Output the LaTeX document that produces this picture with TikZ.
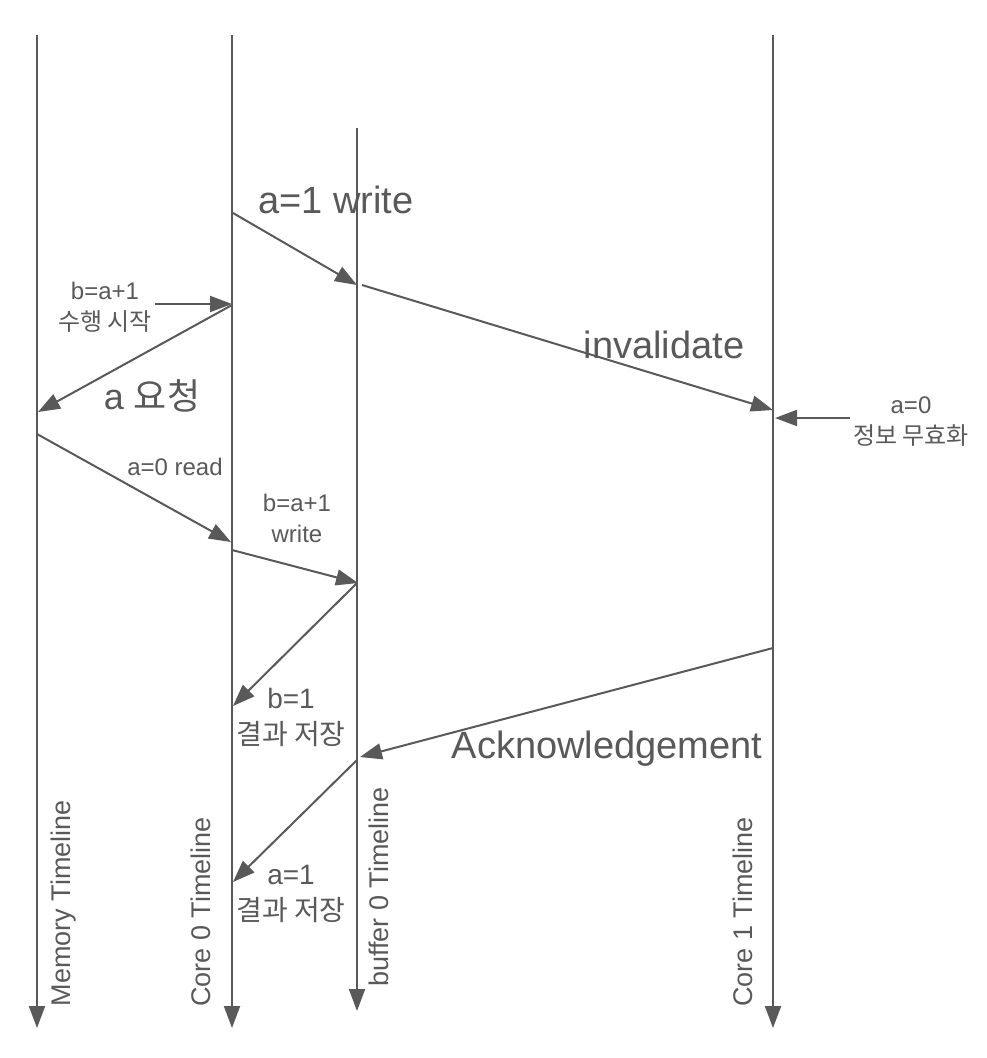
\documentclass[tikz,border=0pt]{standalone}
\usepackage{fontspec}
\setmainfont{Liberation Sans}
\newfontfamily\kr{Noto Sans CJK KR}
\usetikzlibrary{arrows.meta,positioning}
\definecolor{lineGray}{RGB}{89,89,89}

\begin{document}
\begin{tikzpicture}[x=1pt,y=-1pt,
                    msg/.style={-{Triangle[length=22pt,width=16pt]},color=lineGray,line width=2pt},
                    big label/.style={text=lineGray,font=\fontsize{38}{44}\selectfont},
                    mid label/.style={text=lineGray,align=center,font=\fontsize{28}{36}\selectfont},
                    small label/.style={text=lineGray,align=center,font=\fontsize{24}{31}\selectfont},
                    time label/.style={text=lineGray,rotate=90,font=\fontsize{27}{30}\selectfont}]

  \useasboundingbox (0,0) rectangle (986,1058);

  % timelines
  \coordinate (mem top) at (37,35);   \coordinate (mem end) at (37,1028);
  \coordinate (c0 top) at (232,35);   \coordinate (c0 end) at (232,1028);
  \coordinate (buf top) at (357,128); \coordinate (buf end) at (357,1011);
  \coordinate (c1 top) at (773,35);   \coordinate (c1 end) at (773,1028);

  \path[msg]
    (mem top) edge (mem end)
    (c0 top) edge (c0 end)
    (buf top) edge (buf end)
    (c1 top) edge (c1 end);

  \node[time label] (mem name) at (64,903) {Memory Timeline};
  \node[time label] (c0 name) at (201,912) {Core 0 Timeline};
  \node[time label] (buf name) at (379,887) {buffer 0 Timeline};
  \node[time label] (c1 name) at (743,912) {Core 1 Timeline};

  % events
  \coordinate (w1) at (233,213);  \coordinate (w2) at (357,285);
  \coordinate (i1) at (362,285);  \coordinate (i2) at (773,410);
  \coordinate (x1) at (850,418);  \coordinate (x2) at (775,418);
  \coordinate (s1) at (155,304);  \coordinate (s2) at (232,304);
  \coordinate (q1) at (232,305);  \coordinate (q2) at (38,412);
  \coordinate (r1) at (37,434);   \coordinate (r2) at (231,542);
  \coordinate (b1) at (232,550);  \coordinate (b2) at (358,583);
  \coordinate (t1) at (357,583);  \coordinate (t2) at (233,706);
  \coordinate (k1) at (773,648);  \coordinate (k2) at (360,757);
  \coordinate (u1) at (357,760);  \coordinate (u2) at (233,882);

  \path[msg]
    (w1) edge (w2)
    (i1) edge (i2)
    (x1) edge (x2)
    (s1) edge (s2)
    (q1) edge (q2)
    (r1) edge (r2)
    (b1) edge (b2)
    (t1) edge (t2)
    (k1) edge (k2)
    (u1) edge (u2);

  % labels
  \node[big label] (write a) at (336,200) {a=1 write};
  \node[big label] (inval) at (664,345) {invalidate};
  \node[big label,font=\fontsize{36}{42}\selectfont] (req) at (152,396) {a {\kr 요청}};
  \node[big label] (ack) at (607,749) {Acknowledgement};
  \node[small label] (start) at (105,307) {b=a+1\\{\kr 수행 시작}};
  \node[small label] (drop) at (911,422) {a=0\\{\kr 정보 무효화}};
  \node[small label] (read) at (175,467) {a=0 read};
  \node[small label] (write b) at (297,518) {b=a+1\\write};
  \node[mid label] (keep b) at (291,717) {b=1\\{\kr 결과 저장}};
  \node[mid label] (keep a) at (291,894) {a=1\\{\kr 결과 저장}};

\end{tikzpicture}
\end{document}
